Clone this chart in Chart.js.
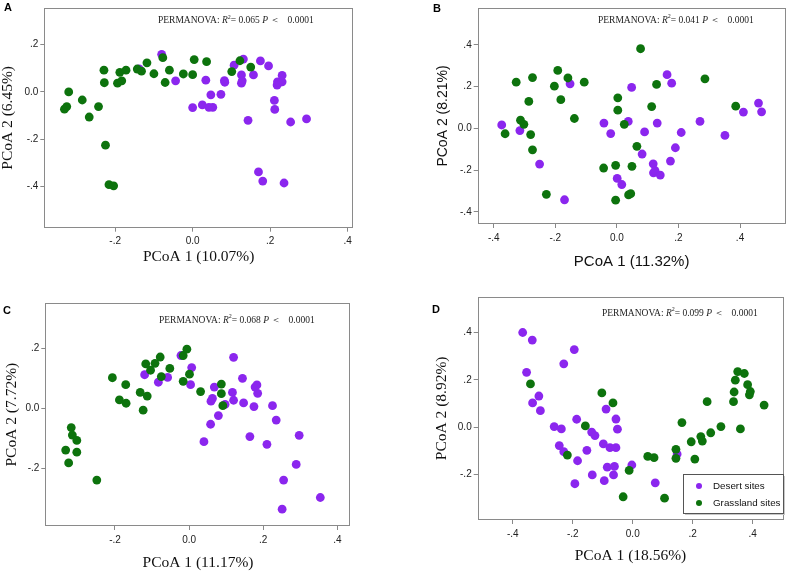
<!DOCTYPE html>
<html>
<head>
<meta charset="utf-8">
<script src="https://cdn.jsdelivr.net/npm/chart.js@4.4.0/dist/chart.umd.min.js"></script>
<style>
  body { margin: 0; background: #fff; }
  #wrap { position: relative; width: 790px; height: 573px; overflow: hidden; }
  .panel { position: absolute; }
</style>
</head>
<body>
<div id="wrap">
  <canvas id="panelA" class="panel" width="395" height="280" style="left:0;top:0"></canvas>
  <canvas id="panelB" class="panel" width="395" height="280" style="left:395px;top:0"></canvas>
  <canvas id="panelC" class="panel" width="395" height="293" style="left:0;top:280px"></canvas>
  <canvas id="panelD" class="panel" width="395" height="293" style="left:395px;top:280px"></canvas>
</div>
<script>
// Ordination scores, [PCoA 1, PCoA 2]
const desertA = [[-0.08,0.159],[-0.138,0.098],[-0.044,0.047],[0,-0.066],[0.025,-0.055],[0.034,0.05],[0.042,-0.065],
  [0.047,-0.012],[0.052,-0.065],[0.073,-0.01],[0.082,0.048],[0.083,0.041],[0.107,0.113],[0.126,0.072],[0.126,0.037],
  [0.128,0.047],[0.131,0.139],[0.143,-0.12],[0.157,0.072],[0.17,-0.338],[0.175,0.131],[0.181,-0.377],[0.196,0.11],
  [0.211,-0.036],[0.212,-0.074],[0.218,0.029],[0.219,0.043],[0.224,0.04],[0.231,0.043],[0.231,0.07],[0.236,-0.385],
  [0.253,-0.127],[0.294,-0.114]];
const grassA = [[-0.331,-0.073],[-0.325,-0.062],[-0.32,0],[-0.285,-0.034],[-0.267,-0.106],[-0.243,-0.062],[-0.229,0.092],
  [-0.228,0.039],[-0.225,-0.225],[-0.216,-0.392],[-0.204,-0.397],[-0.194,0.037],[-0.188,0.083],[-0.183,0.047],
  [-0.172,0.092],[-0.143,0.097],[-0.132,0.088],[-0.118,0.123],[-0.1,0.077],[-0.077,0.145],[-0.071,0.04],[-0.06,0.092],
  [-0.024,0.076],[0,0.073],[0.004,0.137],[0.036,0.128],[0.101,0.086],[0.122,0.132],[0.15,0.105]];

const desertB = [[-0.374,0.016],[-0.315,-0.011],[-0.251,-0.171],[-0.17,-0.342],[-0.152,0.213],[-0.042,0.025],[-0.02,-0.025],
  [0.001,-0.24],[0.016,-0.269],[0.037,0.033],[0.048,0.196],[0.09,-0.017],[0.082,-0.123],[0.118,-0.17],[0.119,-0.213],
  [0.124,-0.202],[0.131,0.025],[0.141,-0.224],[0.163,0.257],[0.174,-0.157],[0.178,0.216],[0.19,-0.093],[0.209,-0.02],
  [0.27,0.033],[0.351,-0.034],[0.411,0.078],[0.46,0.121],[0.47,0.079]];
const grassB = [[-0.363,-0.026],[-0.327,0.221],[-0.313,0.039],[-0.302,0.019],[-0.286,0.129],[-0.28,-0.03],[-0.274,0.243],
  [-0.274,-0.103],[-0.229,-0.316],[-0.203,0.202],[-0.192,0.277],[-0.182,0.137],[-0.159,0.241],[-0.138,0.047],
  [-0.106,0.221],[-0.043,-0.19],[-0.004,-0.177],[-0.004,-0.344],[0.003,0.146],[0.003,0.087],[0.024,0.019],[0.038,-0.319],
  [0.045,-0.313],[0.049,-0.182],[0.065,-0.086],[0.077,0.381],[0.113,0.104],[0.129,0.21],[0.286,0.237],[0.386,0.106]];

const desertC = [[-0.12,0.112],[-0.083,0.087],[-0.058,0.103],[-0.022,0.176],[0.007,0.136],[0.004,0.079],[0.04,-0.111],
  [0.058,-0.053],[0.059,0.024],[0.063,0.033],[0.068,0.071],[0.079,-0.024],[0.097,0.013],[0.117,0.053],[0.12,0.17],
  [0.12,0.027],[0.144,0.1],[0.147,0.018],[0.164,-0.094],[0.175,0.006],[0.178,0.071],[0.183,0.078],[0.185,0.05],
  [0.21,-0.12],[0.225,0.009],[0.235,-0.039],[0.255,-0.239],[0.251,-0.336],[0.289,-0.187],[0.297,-0.09],[0.354,-0.297]];
const grassC = [[-0.333,-0.139],[-0.325,-0.182],[-0.318,-0.064],[-0.315,-0.089],[-0.303,-0.107],[-0.303,-0.146],
  [-0.249,-0.239],[-0.207,0.102],[-0.188,0.028],[-0.171,0.079],[-0.17,0.017],[-0.132,0.053],[-0.124,-0.006],
  [-0.117,0.148],[-0.113,0.041],[-0.104,0.127],[-0.092,0.15],[-0.078,0.171],[-0.075,0.106],[-0.052,0.133],
  [-0.016,0.176],[-0.016,0.09],[-0.006,0.197],[0.001,0.114],[0.031,0.056],[0.087,0.081],[0.087,0.049],[0.091,0.009]];

const desertD = [[-0.367,0.4],[-0.335,0.368],[-0.354,0.232],[-0.334,0.103],[-0.313,0.132],[-0.308,0.07],[-0.262,0.003],
  [-0.238,-0.007],[-0.245,-0.077],[-0.23,-0.103],[-0.23,0.268],[-0.195,0.328],[-0.193,-0.238],[-0.187,0.034],
  [-0.184,-0.141],[-0.153,-0.097],[-0.137,-0.02],[-0.135,-0.201],[-0.126,-0.035],[-0.098,-0.07],[-0.095,-0.225],
  [-0.089,0.077],[-0.085,-0.168],[-0.076,-0.086],[-0.064,-0.201],[-0.061,-0.165],[-0.056,0.035],[-0.056,-0.086],
  [-0.051,-0.008],[-0.003,-0.159],[0.075,-0.234],[0.148,-0.113]];
const grassD = [[-0.341,0.183],[-0.218,-0.117],[-0.158,0.006],[-0.103,0.145],[-0.066,0.103],[-0.032,-0.293],
  [-0.012,-0.182],[0.05,-0.123],[0.071,-0.128],[0.106,-0.299],[0.144,-0.093],[0.144,-0.131],[0.164,0.02],[0.195,-0.061],
  [0.207,-0.134],[0.227,-0.039],[0.232,-0.058],[0.248,0.108],[0.26,-0.023],[0.294,0.003],[0.336,0.108],[0.338,0.149],
  [0.342,0.199],[0.35,0.235],[0.359,-0.007],[0.372,0.227],[0.383,0.18],[0.389,0.137],[0.392,0.151],[0.438,0.094]];

const seriesNames = ['Desert sites', 'Grassland sites'];
const xTitles = ['PCoA 1 (10.07%)', 'PCoA 1 (11.32%)', 'PCoA 1 (11.17%)', 'PCoA 1 (18.56%)'];
const yTitles = ['PCoA 2 (6.45%)', 'PCoA 2 (8.21%)', 'PCoA 2 (7.72%)', 'PCoA 2 (8.92%)'];
const r2Values = ['0.065', '0.041', '0.068', '0.099'];
const pValue = '0.0001';

const xTicksA = [-0.2, 0, 0.2, 0.4],       yTicksA = [-0.4, -0.2, 0, 0.2];
const xTicksB = [-0.4, -0.2, 0, 0.2, 0.4], yTicksB = [-0.4, -0.2, 0, 0.2, 0.4];
const xTicksC = [-0.2, 0, 0.2, 0.4],       yTicksC = [-0.2, 0, 0.2];
const xTicksD = [-0.4, -0.2, 0, 0.2, 0.4], yTicksD = [-0.2, 0, 0.2, 0.4];

const PURPLE = '#8b26ee';
const GREEN = '#0d730d';
const SERIF = '"Liberation Serif", "Times New Roman", serif';
const SANS = '"Liberation Sans", Arial, sans-serif';

// ".2", "-.2", "0.0" style labels
function fmtTick(v) {
    if (Math.abs(v) < 1e-9) return '0.0';
    return (v < 0 ? '-' : '') + '.' + Math.round(Math.abs(v) * 10);
}

function toPoints(arr) {
    return arr.map(p => ({ x: p[0], y: p[1] }));
}

// frame, panel letter, PERMANOVA note and (optional) legend box
const decorPlugin = {
    id: 'decor',
    beforeDatasetsDraw(chart, args, o) {
        const { ctx, chartArea: a } = chart;
        ctx.save();
        ctx.strokeStyle = '#8a8a8a';
        ctx.lineWidth = 1;
        ctx.strokeRect(Math.round(a.left) + 0.5, Math.round(a.top) + 0.5,
            Math.round(a.right - a.left) - 1, Math.round(a.bottom - a.top) - 1);
        ctx.restore();
    },
    afterDraw(chart, args, o) {
        const ctx = chart.ctx;
        ctx.save();
        ctx.fillStyle = '#000';
        ctx.font = 'bold 11px ' + SANS;
        ctx.textBaseline = 'top';
        ctx.fillText(o.letter, o.letterX, o.letterY);

        // PERMANOVA: R² = x P < 0.0001
        const base = '9.5px ' + SERIF;
        const parts = [
            [base, 'PERMANOVA: ', 0],
            ['italic ' + base, 'R', 0],
            ['6px ' + SERIF, '2', -3.5],
            [base, '= ' + o.r2 + ' ', 0],
            ['italic ' + base, 'P', 0],
            [base, ' \uFF1C   ' + pValue, 0]
        ];
        let x = o.statX;
        ctx.textBaseline = 'middle';
        ctx.fillStyle = '#222';
        parts.forEach(p => {
            ctx.font = p[0];
            ctx.fillText(p[1], x, o.statY + p[2]);
            x += ctx.measureText(p[1]).width;
        });

        if (o.legend) {
            const L = o.legend;
            ctx.fillStyle = '#c8c8c8';
            ctx.fillRect(L.x + 2, L.y + 2, L.w, L.h);
            ctx.fillStyle = '#fff';
            ctx.fillRect(L.x, L.y, L.w, L.h);
            ctx.strokeStyle = '#555';
            ctx.lineWidth = 1;
            ctx.strokeRect(L.x + 0.5, L.y + 0.5, L.w, L.h);
            ctx.font = '9.8px ' + SANS;
            ctx.textBaseline = 'middle';
            chart.data.datasets.forEach((ds, i) => {
                const cy = L.y + L.rowY[i];
                ctx.fillStyle = ds.backgroundColor;
                ctx.beginPath();
                ctx.arc(L.x + L.dotX, cy, 3, 0, Math.PI * 2);
                ctx.fill();
                ctx.fillStyle = '#111';
                ctx.fillText(ds.label, L.x + L.textX, cy + 0.5);
            });
        }
        ctx.restore();
    }
};

const panels = [
    { id: 'panelA', desert: desertA, grass: grassA, xMin: -0.383, xMax: 0.414, yMin: -0.574, yMax: 0.355,
      xTicks: xTicksA, yTicks: yTicksA, i: 0, titleFont: SERIF, xSize: 15.5, ySize: 15.5,
      top: 3.3, right: 42, yW: 44.3, xH: 52.3, xPad: 15.2, yPad: 0.5,
      letter: 'A', letterX: 4, letterY: 2, statX: 158, statY: 20.7 },
    { id: 'panelB', desert: desertB, grass: grassB, xMin: -0.452, xMax: 0.548, yMin: -0.458, yMax: 0.576,
      xTicks: xTicksB, yTicks: yTicksB, i: 1, titleFont: SANS, xSize: 15, ySize: 14,
      top: 2.7, right: 2.3, yW: 82.7, xH: 56, xPad: 10.8, yPad: 41,
      letter: 'B', letterX: 38, letterY: 3, statX: 203, statY: 20 },
    { id: 'panelC', desert: desertC, grass: grassC, xMin: -0.388, xMax: 0.436, yMin: -0.392, yMax: 0.35,
      xTicks: xTicksC, yTicks: yTicksC, i: 2, titleFont: SERIF, xSize: 15.5, ySize: 15.5,
      top: 23.3, right: 44.3, yW: 45.3, xH: 47, xPad: 2.2, yPad: 4,
      letter: 'C', letterX: 3, letterY: 25, statX: 159, statY: 40 },
    { id: 'panelD', desert: desertD, grass: grassD, xMin: -0.517, xMax: 0.502, yMin: -0.391, yMax: 0.551,
      xTicks: xTicksD, yTicks: yTicksD, i: 3, titleFont: SERIF, xSize: 15.5, ySize: 15.5,
      top: 16.7, right: 6.7, yW: 82.7, xH: 53, xPad: 9.2, yPad: 39,
      letter: 'D', letterX: 37, letterY: 24, statX: 207, statY: 33,
      legend: { x: 288, y: 194, w: 100, h: 39, dotX: 16, textX: 30, rowY: [12, 29] } }
];

function axisCommon(ticks) {
    return {
        type: 'linear',
        grid: { display: true, drawOnChartArea: false, drawTicks: true, tickLength: 4, color: '#888', tickColor: '#888' },
        border: { display: false },
        ticks: { font: { family: SANS, size: 10 }, color: '#222', padding: 4, autoSkip: false, maxRotation: 0,
                 callback: v => fmtTick(v) },
        afterBuildTicks: s => { s.ticks = ticks.map(v => ({ value: v })); }
    };
}

panels.forEach(p => {
    const xAxis = axisCommon(p.xTicks);
    xAxis.min = p.xMin; xAxis.max = p.xMax; xAxis.position = 'bottom';
    xAxis.title = { display: true, text: xTitles[p.i], color: '#111',
                    font: { family: p.titleFont, size: p.xSize, lineHeight: 1 }, padding: { top: 0, bottom: p.xPad } };
    xAxis.afterFit = s => { s.height = p.xH; };

    const yAxis = axisCommon(p.yTicks);
    yAxis.ticks.padding = 2;
    yAxis.min = p.yMin; yAxis.max = p.yMax; yAxis.position = 'left';
    yAxis.title = { display: true, text: yTitles[p.i], color: '#111',
                    font: { family: p.titleFont, size: p.ySize, lineHeight: 1 }, padding: { top: p.yPad, bottom: 0 } };
    yAxis.afterFit = s => { s.width = p.yW; };

    new Chart(document.getElementById(p.id), {
        type: 'scatter',
        data: {
            datasets: [
                { label: seriesNames[0], data: toPoints(p.desert), backgroundColor: PURPLE, order: 2 },
                { label: seriesNames[1], data: toPoints(p.grass), backgroundColor: GREEN, order: 1 }
            ]
        },
        options: {
            responsive: false,
            animation: false,
            devicePixelRatio: 1,
            layout: { padding: { top: p.top, right: p.right, left: 0, bottom: 0 } },
            elements: { point: { radius: 4.4, borderWidth: 0, hoverRadius: 4.4 } },
            scales: { x: xAxis, y: yAxis },
            plugins: {
                legend: { display: false },
                tooltip: { enabled: false },
                decor: { letter: p.letter, letterX: p.letterX, letterY: p.letterY,
                         statX: p.statX, statY: p.statY, r2: r2Values[p.i], legend: p.legend || null }
            }
        },
        plugins: [decorPlugin]
    });
});
</script>
</body>
</html>
